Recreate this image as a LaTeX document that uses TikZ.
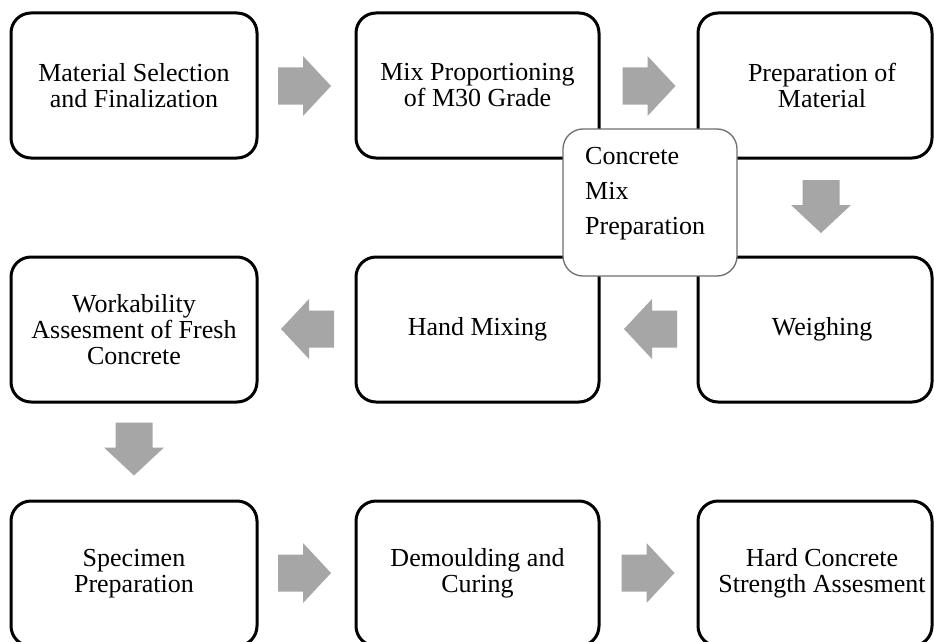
\documentclass[tikz,border=0pt]{standalone}
\usepackage{fontspec}
\setmainfont{Liberation Serif}
\definecolor{arrowgray}{HTML}{A6A6A6}
\definecolor{hubgray}{HTML}{6E6E6E}
\newcommand{\padl}{\hspace*{14pt}}
\tikzset{
  stepbox/.style={draw=black, line width=3pt, rounded corners=20pt, fill=white,
    align=center, font=\fontsize{26}{26}\selectfont, inner sep=0pt,
    minimum height=145pt},
  hubbox/.style={draw=hubgray, line width=1.3pt, rounded corners=20pt, fill=white,
    minimum width=174pt, minimum height=147pt, inner sep=0pt},
  hubtext/.style={align=left, font=\fontsize{26}{35}\selectfont, inner sep=0pt, anchor=north west},
  blockarrow/.pic={\fill[arrowgray] (-26.5,-18.5) -- (-1.5,-18.5) -- (-1.5,-30) -- (26.5,0)
      -- (-1.5,30) -- (-1.5,18.5) -- (-26.5,18.5) -- cycle;}
}
\begin{document}
\begin{tikzpicture}[x=1pt,y=-1pt]
\useasboundingbox (0,0) rectangle (934,642);
\clip (0,0) rectangle (934,642);
\fill[white] (0,0) rectangle (934,642);

% row 1
\node[stepbox, minimum width=246pt] (sel) at (134,85.5) {Material Selection\\and Finalization};
\node[stepbox, minimum width=243pt] (mix) at (477.5,85.5) {Mix Proportioning\\of M30 Grade};
\node[stepbox, minimum width=234pt] (prep) at (815,85.5)
  {\padl Preparation of\\\padl Material};
% row 2
\node[stepbox, minimum width=246pt] (work) at (134,329.5) {Workability\\Assesment of Fresh\\Concrete};
\node[stepbox, minimum width=243pt] (hand) at (477.5,329.5) {Hand Mixing};
\node[stepbox, minimum width=234pt] (weigh) at (815,329.5) {\padl Weighing};
% row 3
\node[stepbox, minimum width=246pt] (spec) at (134,573.5) {Specimen\\Preparation};
\node[stepbox, minimum width=243pt] (cure) at (477.5,573.5) {Demoulding and\\Curing};
\node[stepbox, minimum width=234pt] (hard) at (815,573.5)
  {\padl Hard Concrete\\\padl Strength Assesment};

% block arrows
\pic (a1) at (304.5,86) {blockarrow};
\pic (a2) at (649,86) {blockarrow};
\pic[rotate=-90] (a3) at (821,206.5) {blockarrow};
\pic[rotate=180] (a4) at (650.5,329) {blockarrow};
\pic[rotate=180] (a5) at (307.5,329) {blockarrow};
\pic[rotate=-90] (a6) at (134,449) {blockarrow};
\pic (a7) at (304.5,573) {blockarrow};
\pic (a8) at (648,573) {blockarrow};

% central hub
\node[hubbox] (hub) at (650,202.5) {};
\node[hubtext] (hubt) at (585,147.5) {Concrete\\Mix\\Preparation};
\end{tikzpicture}
\end{document}
